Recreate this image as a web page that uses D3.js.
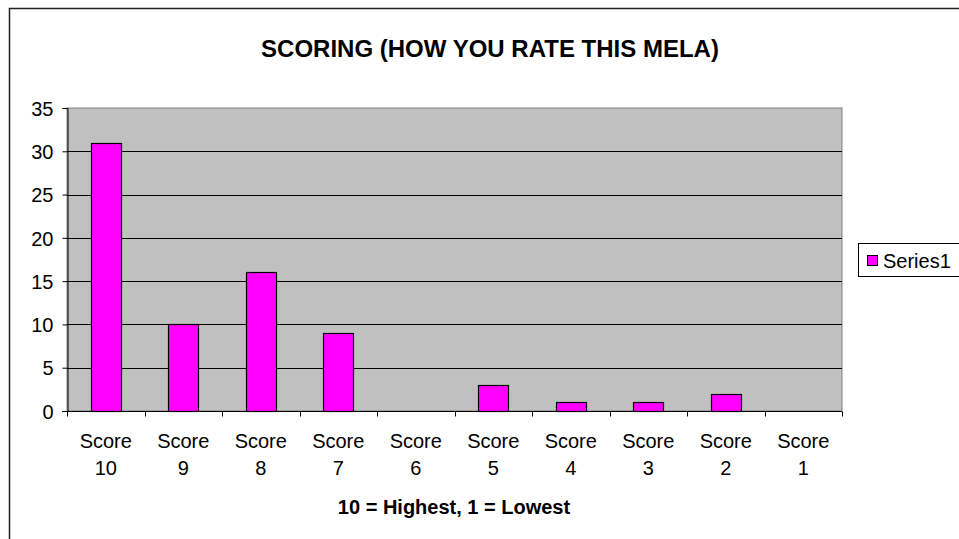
<!DOCTYPE html>
<html>
<head>
<meta charset="utf-8">
<script src="https://cdn.jsdelivr.net/npm/d3@7"></script>
<style>
  html, body { margin: 0; padding: 0; background: #fff; }
  svg { display: block; font-family: Arial, "Liberation Sans", sans-serif; }
</style>
</head>
<body>
<svg id="chart" width="959" height="539"></svg>
<script>
// Ratings given to the mela, from Score 10 down to Score 1
const categories = ["Score 10", "Score 9", "Score 8", "Score 7", "Score 6", "Score 5", "Score 4", "Score 3", "Score 2", "Score 1"];
const values = [31, 10, 16, 9, 0, 3, 1, 1, 2, 0];
const yTicks = [0, 5, 10, 15, 20, 25, 30, 35];
const seriesName = "Series1";
const chartTitle = "SCORING (HOW YOU RATE THIS MELA)";
const xTitle = "10 = Highest, 1 = Lowest";

const FONT = "Arial, 'Liberation Sans', sans-serif";
const svg = d3.select("#chart");

// outer frame (only top and left edges are inside the window)
svg.append("path")
  .attr("d", "M9.5,539 V8.5 H959")
  .attr("fill", "none")
  .attr("stroke", "#222")
  .attr("stroke-width", 1.5);

const plot = { left: 67, right: 842, top: 108, bottom: 411 };

const x = d3.scaleBand()
  .domain(categories)
  .range([plot.left, plot.right])
  .paddingInner(0.61)
  .paddingOuter(0.305);

const xBand = d3.scaleBand().domain(categories).range([plot.left, plot.right]);

const y = d3.scaleLinear()
  .domain([0, 35])
  .range([plot.bottom, plot.top]);

// plot background
svg.append("rect")
  .attr("x", plot.left).attr("y", plot.top)
  .attr("width", plot.right - plot.left)
  .attr("height", plot.bottom - plot.top)
  .attr("fill", "#c0c0c0")
  .attr("stroke", "#808080")
  .attr("stroke-width", 1);

// horizontal gridlines
svg.append("g")
  .selectAll("line")
  .data(yTicks.filter(t => t > 0 && t < 35))
  .join("line")
  .attr("x1", plot.left).attr("x2", plot.right)
  .attr("y1", d => Math.round(y(d)) + 0.5).attr("y2", d => Math.round(y(d)) + 0.5)
  .attr("stroke", "#000")
  .attr("stroke-width", 1);

// bars
svg.append("g")
  .selectAll("rect")
  .data(categories.map((c, i) => ({ c, v: values[i] })).filter(d => d.v > 0))
  .join("rect")
  .attr("x", d => Math.round(x(d.c)) + 0.5)
  .attr("y", d => Math.round(y(d.v)) + 0.5)
  .attr("width", Math.round(x.bandwidth()))
  .attr("height", d => Math.round(y(0)) - Math.round(y(d.v)))
  .attr("fill", "#ff00ff")
  .attr("stroke", "#000")
  .attr("stroke-width", 1.2);

// y axis
const yAxis = d3.axisLeft(y).tickValues(yTicks).tickSize(5).tickPadding(9);
const gy = svg.append("g")
  .attr("transform", `translate(${plot.left + 0.5},0)`)
  .call(yAxis);
gy.attr("font-size", 20).attr("font-family", FONT);
gy.select(".domain").attr("stroke", "#000");
gy.selectAll(".tick line").attr("stroke", "#000");
gy.selectAll(".tick text")
  .attr("fill", "#000")
  .attr("dy", "0.36em");

// x axis: ticks at category boundaries
const gx = svg.append("g")
  .attr("transform", `translate(0,${plot.bottom + 0.5})`);
gx.append("line")
  .attr("x1", plot.left - 5).attr("x2", plot.right)
  .attr("stroke", "#000");
const boundaries = categories.map(c => xBand(c)).concat([plot.right]);
gx.selectAll("line.tk")
  .data(boundaries)
  .join("line")
  .attr("class", "tk")
  .attr("x1", d => Math.round(d) + 0.5).attr("x2", d => Math.round(d) + 0.5)
  .attr("y1", 0).attr("y2", 5)
  .attr("stroke", "#000");

// category labels on two lines
const lbl = gx.selectAll("text.cat")
  .data(categories)
  .join("text")
  .attr("class", "cat")
  .attr("text-anchor", "middle")
  .attr("font-size", 20)
  .attr("fill", "#000");
lbl.each(function(d) {
  const parts = d.split(" ");
  const cx = xBand(d) + xBand.bandwidth() / 2;
  const t = d3.select(this);
  t.append("tspan").attr("x", cx).attr("y", 36).text(parts[0]);
  t.append("tspan").attr("x", cx).attr("y", 63).text(parts[1]);
});

// titles
svg.append("text")
  .attr("x", 490).attr("y", 57)
  .attr("text-anchor", "middle")
  .attr("font-size", 24)
  .attr("font-weight", "bold")
  .text(chartTitle);

svg.append("text")
  .attr("x", 454).attr("y", 514)
  .attr("text-anchor", "middle")
  .attr("font-size", 20)
  .attr("font-weight", "bold")
  .text(xTitle);

// legend
const lg = svg.append("g");
lg.append("rect")
  .attr("x", 858.5).attr("y", 243.5)
  .attr("width", 110).attr("height", 33)
  .attr("fill", "#fff")
  .attr("stroke", "#000")
  .attr("stroke-width", 1);
lg.append("rect")
  .attr("x", 867.5).attr("y", 255.5)
  .attr("width", 10).attr("height", 10)
  .attr("fill", "#ff00ff")
  .attr("stroke", "#000");
lg.append("text")
  .attr("x", 883).attr("y", 268)
  .attr("font-size", 20)
  .text(seriesName);
</script>
</body>
</html>
